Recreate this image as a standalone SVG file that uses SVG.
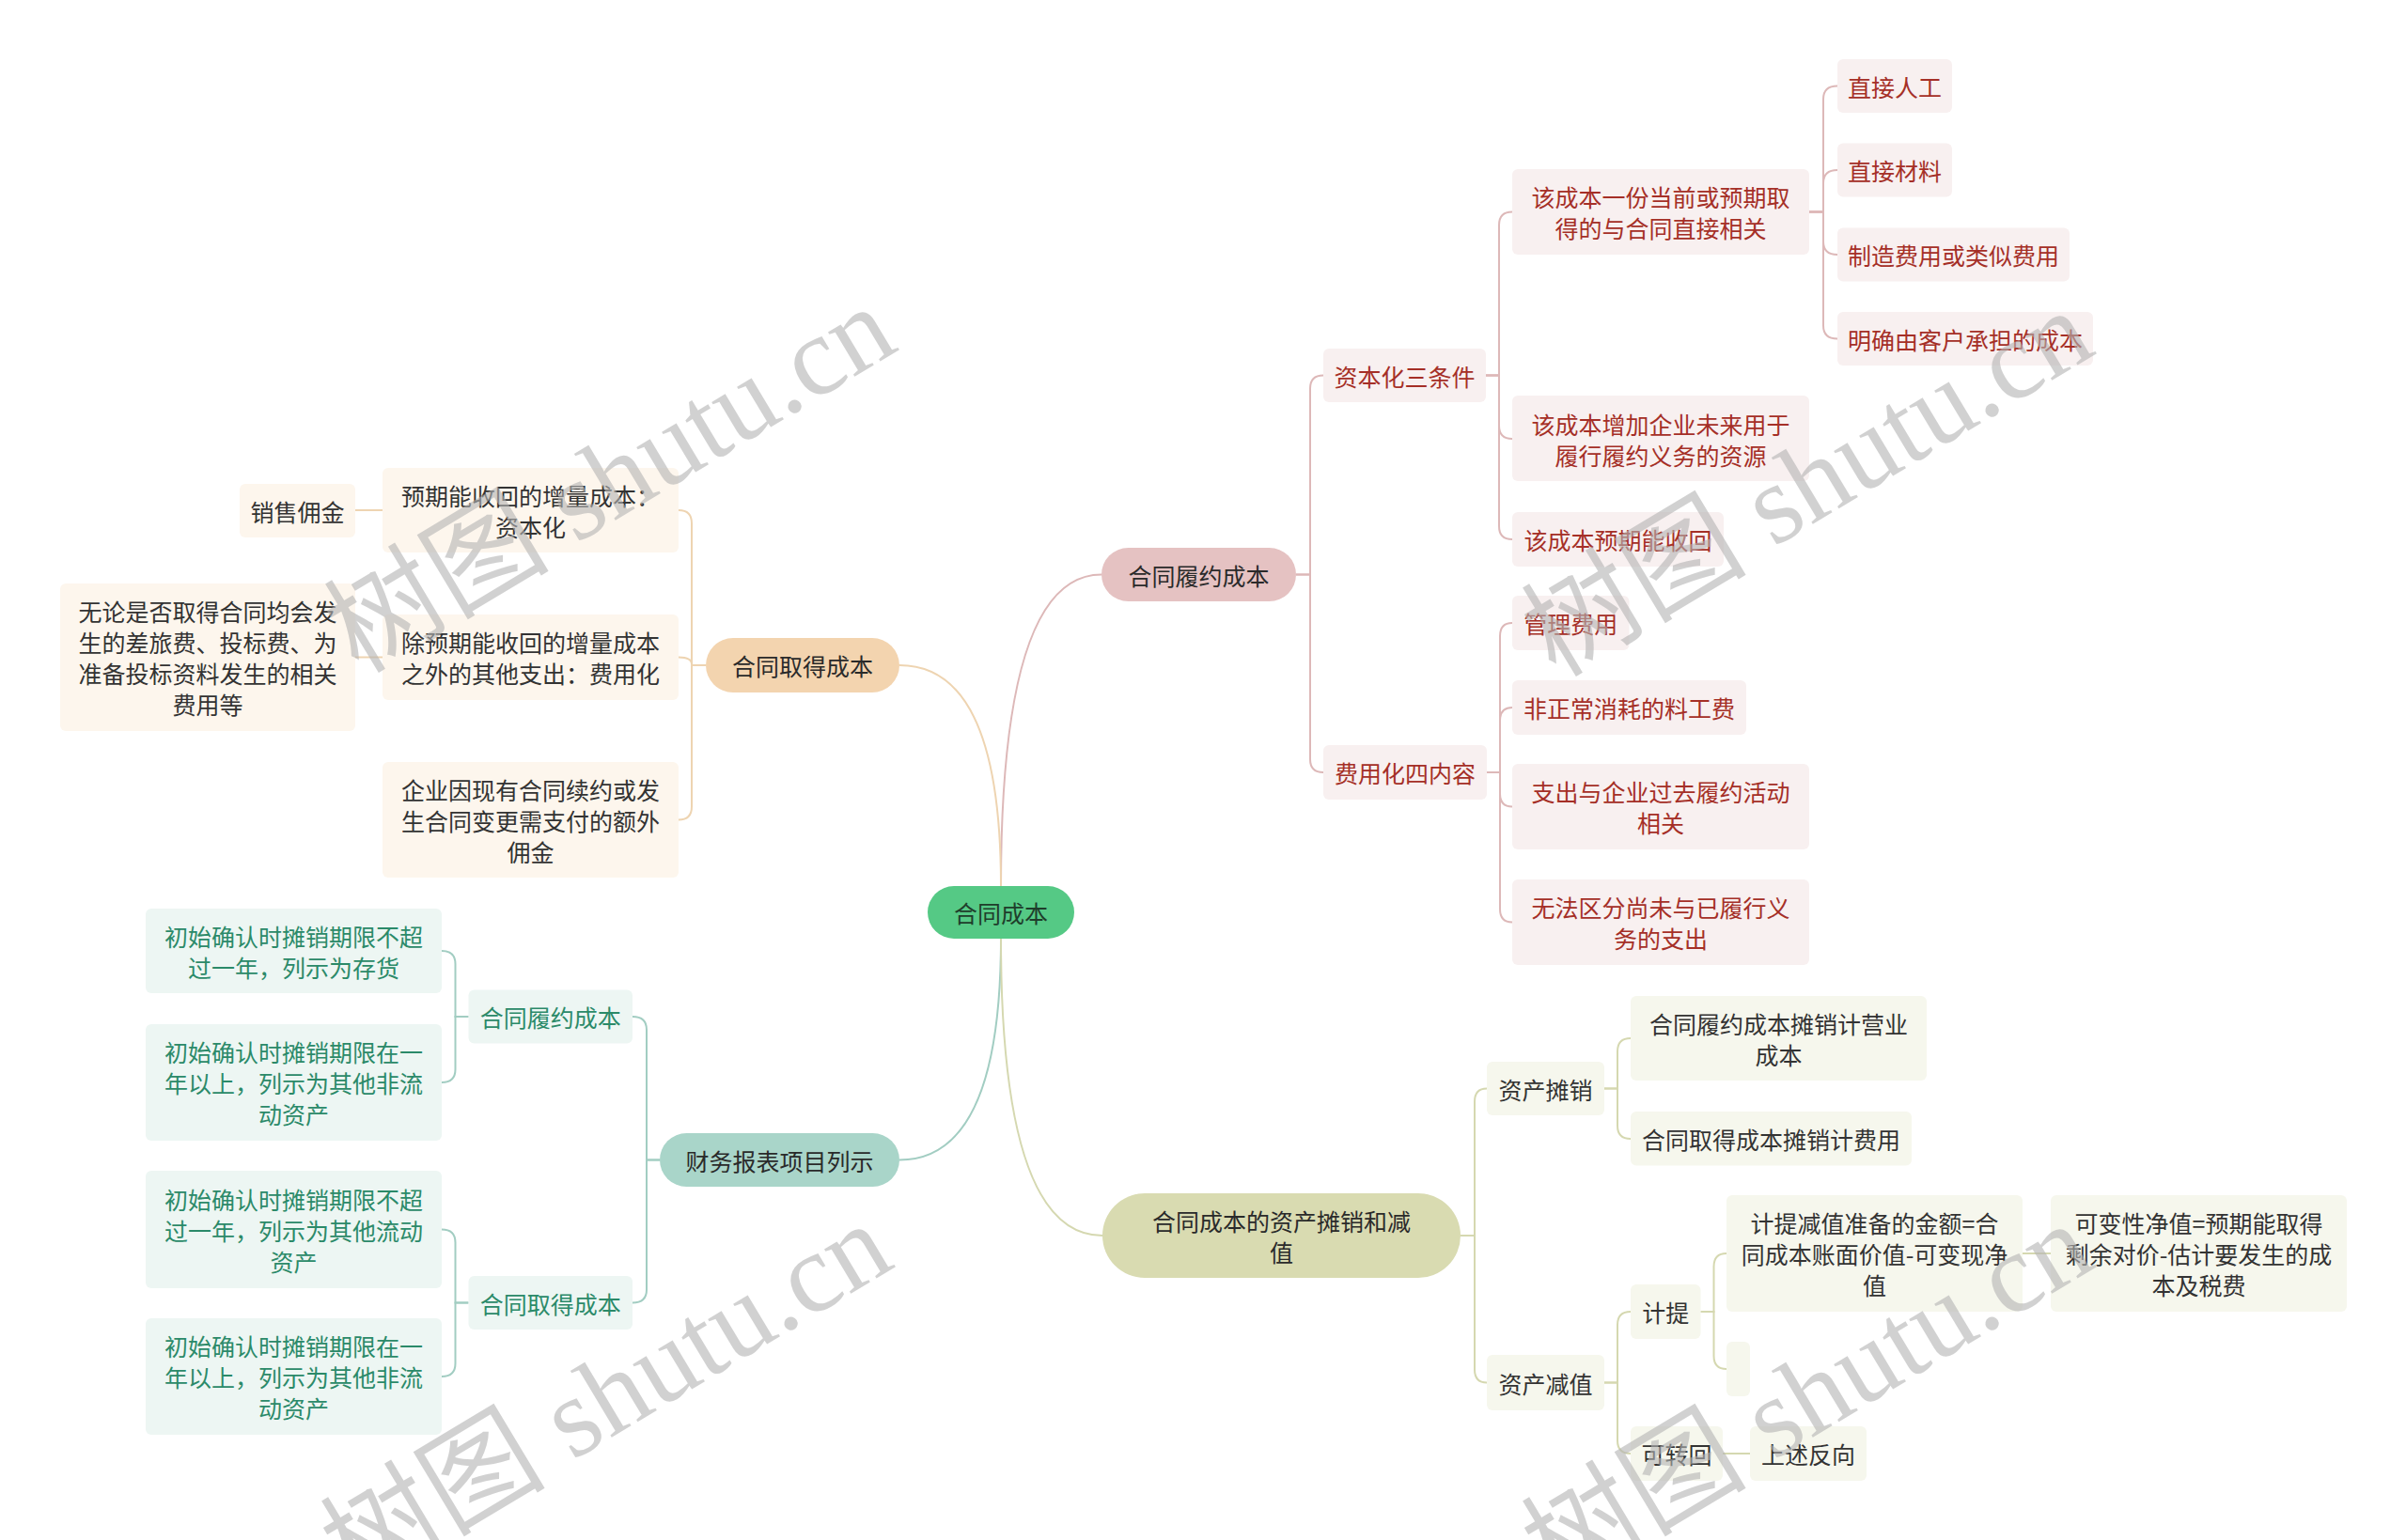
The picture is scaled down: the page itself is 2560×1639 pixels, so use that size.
<svg xmlns="http://www.w3.org/2000/svg" width="2560" height="1639" viewBox="0 0 2560 1639">
<style>
text{font-family:"Noto Sans CJK SC","Noto Sans",sans-serif;font-size:25px;text-anchor:middle;dominant-baseline:central}
.ln{fill:none;stroke-width:2}
.pk{stroke:#ddb8b8}.pc{stroke:#eed4b1}.tl{stroke:#a2cdc2}.ol{stroke:#d5d8b0}
.root rect{fill:#55c985}.root text{fill:#1f3d2b}
.m1 rect{fill:#e5c2c2}.m2 rect{fill:#f3d4af}.m3 rect{fill:#a9d5c9}.m4 rect{fill:#d9dbb1}
.mn text{fill:#2a2a2a}
.lp rect{fill:#f8f0f0}.lp text{fill:#a52f27}
.lc rect{fill:#fdf6ed}.lc text{fill:#333333}
.lt rect{fill:#edf6f3}.lt text{fill:#2b8a69}
.lo rect{fill:#f6f7ed}.lo text{fill:#333333}
.wm{font-family:"Liberation Serif","Noto Sans CJK SC",serif;font-size:120px;fill:#b4b4b4;opacity:0.6}
</style>
<rect width="2560" height="1639" fill="#ffffff"/>
<g id="connectors">
<path class="ln pk" d="M1065,943 Q1065,611.5 1172,611.5"/>
<path class="ln pc" d="M1065,943 Q1065,708 957,708"/>
<path class="ln tl" d="M1065,999 Q1065,1234.5 957,1234.5"/>
<path class="ln ol" d="M1065,999 Q1065,1315 1173,1315"/>
<path class="ln pk" d="M1379,611.5 H1394 V413.5 Q1394,399.5 1408,399.5"/>
<path class="ln pk" d="M1379,611.5 H1394 V808 Q1394,822 1408,822"/>
<path class="ln pk" d="M1581,399.5 H1595 V239.5 Q1595,225.5 1609,225.5"/>
<path class="ln pk" d="M1581,399.5 H1595 V453 Q1595,467 1609,467"/>
<path class="ln pk" d="M1581,399.5 H1595 V560 Q1595,574 1609,574"/>
<path class="ln pk" d="M1925,225.5 H1940 V105.5 Q1940,91.5 1955,91.5"/>
<path class="ln pk" d="M1925,225.5 H1940 V195 Q1940,181 1955,181"/>
<path class="ln pk" d="M1925,225.5 H1940 V257 Q1940,271 1955,271"/>
<path class="ln pk" d="M1925,225.5 H1940 V346.5 Q1940,360.5 1955,360.5"/>
<path class="ln pk" d="M1582,822 H1596 V677 Q1596,663 1609,663"/>
<path class="ln pk" d="M1582,822 H1596 V767 Q1596,753 1609,753"/>
<path class="ln pk" d="M1582,822 H1596 V844.5 Q1596,858.5 1609,858.5"/>
<path class="ln pk" d="M1582,822 H1596 V967.5 Q1596,981.5 1609,981.5"/>
<path class="ln pc" d="M751,708 H736 V557 Q736,543 722,543"/>
<path class="ln pc" d="M751,708 H736 V707 Q736,699.5 722,699.5"/>
<path class="ln pc" d="M751,708 H736 V858.5 Q736,872.5 722,872.5"/>
<path class="ln pc" d="M407,543 H378"/>
<path class="ln pc" d="M407,699.5 H378"/>
<path class="ln tl" d="M702,1234.5 H688 V1096 Q688,1082 673,1082"/>
<path class="ln tl" d="M702,1234.5 H688 V1372.5 Q688,1386.5 673,1386.5"/>
<path class="ln tl" d="M498.5,1082 H484.5 V1026 Q484.5,1012 470,1012"/>
<path class="ln tl" d="M498.5,1082 H484.5 V1138 Q484.5,1152 470,1152"/>
<path class="ln tl" d="M498.5,1386.5 H484.5 V1322.5 Q484.5,1308.5 470,1308.5"/>
<path class="ln tl" d="M498.5,1386.5 H484.5 V1451 Q484.5,1465 470,1465"/>
<path class="ln ol" d="M1554,1315 H1569 V1172.5 Q1569,1158.5 1582,1158.5"/>
<path class="ln ol" d="M1554,1315 H1569 V1457.5 Q1569,1471.5 1582,1471.5"/>
<path class="ln ol" d="M1707,1158.5 H1721 V1119 Q1721,1105 1735,1105"/>
<path class="ln ol" d="M1707,1158.5 H1721 V1198 Q1721,1212 1735,1212"/>
<path class="ln ol" d="M1707,1471.5 H1721 V1410 Q1721,1396 1735,1396"/>
<path class="ln ol" d="M1707,1471.5 H1721 V1533 Q1721,1547 1735,1547"/>
<path class="ln ol" d="M1809.5,1396 H1823.5 V1348 Q1823.5,1334 1837,1334"/>
<path class="ln ol" d="M1809.5,1396 H1823.5 V1443 Q1823.5,1457 1837,1457"/>
<path class="ln ol" d="M2152,1334 H2182"/>
<path class="ln ol" d="M1833,1547 H1862"/>
</g>
<g id="root" class="root"><rect x="987" y="943" width="156" height="56" rx="28"/><text x="1065" y="971">合同成本</text></g>
<g id="n-lvcb" class="mn m1"><rect x="1172" y="583" width="207" height="57" rx="28.5"/><text x="1275.5" y="611.5">合同履约成本</text></g>
<g id="n-qdcb" class="mn m2"><rect x="751" y="679" width="206" height="58" rx="29"/><text x="854" y="708">合同取得成本</text></g>
<g id="n-cwbb" class="mn m3"><rect x="702" y="1206" width="255" height="57" rx="28.5"/><text x="829.5" y="1234.5">财务报表项目列示</text></g>
<g id="n-txjz" class="mn m4"><rect x="1173" y="1270" width="381" height="90" rx="45"/><text x="1363.5" y="1298.5">合同成本的资产摊销和减</text><text x="1363.5" y="1331.5">值</text></g>

<g id="p1" class="lp"><rect x="1408" y="371" width="173" height="57" rx="6"/><text x="1494.5" y="399.5">资本化三条件</text></g>
<g id="p2" class="lp"><rect x="1609" y="180" width="316" height="91" rx="6"/><text x="1767" y="209">该成本一份当前或预期取</text><text x="1767" y="242">得的与合同直接相关</text></g>
<g id="p3" class="lp"><rect x="1609" y="421" width="316" height="91" rx="6"/><text x="1767" y="450.5">该成本增加企业未来用于</text><text x="1767" y="483.5">履行履约义务的资源</text></g>
<g id="p4" class="lp"><rect x="1609" y="545" width="225" height="58" rx="6"/><text x="1721.5" y="574">该成本预期能收回</text></g>
<g id="p5" class="lp"><rect x="1955" y="63" width="122" height="57" rx="6"/><text x="2016" y="91.5">直接人工</text></g>
<g id="p6" class="lp"><rect x="1955" y="152.5" width="122" height="57" rx="6"/><text x="2016" y="181">直接材料</text></g>
<g id="p7" class="lp"><rect x="1955" y="242.5" width="247" height="57" rx="6"/><text x="2078.5" y="271">制造费用或类似费用</text></g>
<g id="p8" class="lp"><rect x="1955" y="332" width="272" height="57" rx="6"/><text x="2091" y="360.5">明确由客户承担的成本</text></g>
<g id="p9" class="lp"><rect x="1408" y="793" width="174" height="58" rx="6"/><text x="1495" y="822">费用化四内容</text></g>
<g id="p10" class="lp"><rect x="1609" y="634" width="124.5" height="58" rx="6"/><text x="1671.25" y="663">管理费用</text></g>
<g id="p11" class="lp"><rect x="1609" y="724" width="249" height="58" rx="6"/><text x="1733.5" y="753">非正常消耗的料工费</text></g>
<g id="p12" class="lp"><rect x="1609" y="813" width="316" height="91" rx="6"/><text x="1767" y="842">支出与企业过去履约活动</text><text x="1767" y="875">相关</text></g>
<g id="p13" class="lp"><rect x="1609" y="936" width="316" height="91" rx="6"/><text x="1767" y="965">无法区分尚未与已履行义</text><text x="1767" y="998">务的支出</text></g>

<g id="c1" class="lc"><rect x="255" y="515" width="123" height="57" rx="6"/><text x="316.5" y="543.5">销售佣金</text></g>
<g id="c2" class="lc"><rect x="407" y="498" width="315" height="90" rx="6"/><text x="564.5" y="526.5">预期能收回的增量成本：</text><text x="564.5" y="559.5">资本化</text></g>
<g id="c3" class="lc"><rect x="64" y="621" width="314" height="157" rx="6"/><text x="221" y="650">无论是否取得合同均会发</text><text x="221" y="683">生的差旅费、投标费、为</text><text x="221" y="716">准备投标资料发生的相关</text><text x="221" y="749">费用等</text></g>
<g id="c4" class="lc"><rect x="407" y="654" width="315" height="91" rx="6"/><text x="564.5" y="683">除预期能收回的增量成本</text><text x="564.5" y="716">之外的其他支出：费用化</text></g>
<g id="c5" class="lc"><rect x="407" y="811" width="315" height="123" rx="6"/><text x="564.5" y="839.5">企业因现有合同续约或发</text><text x="564.5" y="872.5">生合同变更需支付的额外</text><text x="564.5" y="905.5">佣金</text></g>

<g id="t1" class="lt"><rect x="498.5" y="1053.5" width="174.5" height="57" rx="6"/><text x="585.75" y="1082">合同履约成本</text></g>
<g id="t2" class="lt"><rect x="498.5" y="1358" width="174.5" height="57" rx="6"/><text x="585.75" y="1386.5">合同取得成本</text></g>
<g id="t3" class="lt"><rect x="155" y="967" width="315" height="90" rx="6"/><text x="312.5" y="995.5">初始确认时摊销期限不超</text><text x="312.5" y="1028.5">过一年，列示为存货</text></g>
<g id="t4" class="lt"><rect x="155" y="1090" width="315" height="124" rx="6"/><text x="312.5" y="1119">初始确认时摊销期限在一</text><text x="312.5" y="1152">年以上，列示为其他非流</text><text x="312.5" y="1185">动资产</text></g>
<g id="t5" class="lt"><rect x="155" y="1246" width="315" height="125" rx="6"/><text x="312.5" y="1275.5">初始确认时摊销期限不超</text><text x="312.5" y="1308.5">过一年，列示为其他流动</text><text x="312.5" y="1341.5">资产</text></g>
<g id="t6" class="lt"><rect x="155" y="1403" width="315" height="124" rx="6"/><text x="312.5" y="1432">初始确认时摊销期限在一</text><text x="312.5" y="1465">年以上，列示为其他非流</text><text x="312.5" y="1498">动资产</text></g>

<g id="o1" class="lo"><rect x="1582" y="1130" width="125" height="57" rx="6"/><text x="1644.5" y="1158.5">资产摊销</text></g>
<g id="o2" class="lo"><rect x="1735" y="1060" width="315" height="90" rx="6"/><text x="1892.5" y="1088.5">合同履约成本摊销计营业</text><text x="1892.5" y="1121.5">成本</text></g>
<g id="o3" class="lo"><rect x="1735" y="1183" width="299" height="57.5" rx="6"/><text x="1884.5" y="1212">合同取得成本摊销计费用</text></g>
<g id="o4" class="lo"><rect x="1582" y="1442" width="125" height="59" rx="6"/><text x="1644.5" y="1471.5">资产减值</text></g>
<g id="o5" class="lo"><rect x="1735" y="1367" width="74.5" height="58" rx="6"/><text x="1772.25" y="1396">计提</text></g>
<g id="o6" class="lo"><rect x="1837" y="1272" width="315" height="124" rx="6"/><text x="1994.5" y="1301">计提减值准备的金额=合</text><text x="1994.5" y="1334">同成本账面价值-可变现净</text><text x="1994.5" y="1367">值</text></g>
<g id="o7" class="lo"><rect x="2182" y="1272" width="315" height="124" rx="6"/><text x="2339.5" y="1301">可变性净值=预期能取得</text><text x="2339.5" y="1334">剩余对价-估计要发生的成</text><text x="2339.5" y="1367">本及税费</text></g>
<g id="o8" class="lo"><rect x="1837" y="1428" width="25" height="58" rx="6"/></g>
<g id="o9" class="lo"><rect x="1735" y="1518" width="98" height="58" rx="6"/><text x="1784" y="1547">可转回</text></g>
<g id="o10" class="lo"><rect x="1862" y="1518" width="124" height="58" rx="6"/><text x="1924" y="1547">上述反向</text></g>

<g id="watermarks">
<text class="wm" transform="translate(649,510) rotate(-31)">树图 shutu.cn</text>
<text class="wm" transform="translate(1923,514) rotate(-31)">树图 shutu.cn</text>
<text class="wm" transform="translate(645,1486) rotate(-31)">树图 shutu.cn</text>
<text class="wm" transform="translate(1923,1486) rotate(-31)">树图 shutu.cn</text>
</g>
</svg>
